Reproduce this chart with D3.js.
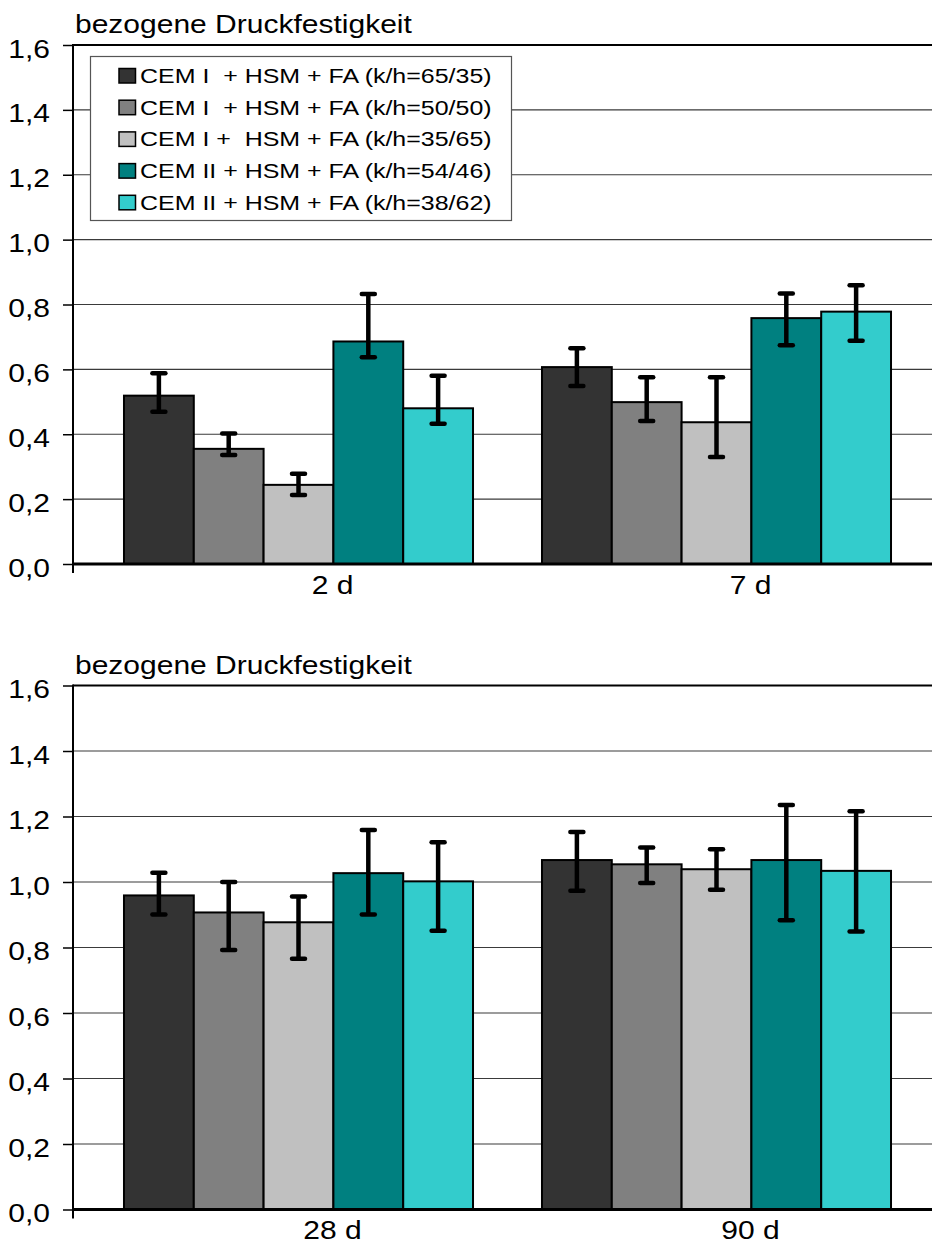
<!DOCTYPE html>
<html><head><meta charset="utf-8">
<script src="https://cdn.jsdelivr.net/npm/d3@7"></script>
<style>
html,body{margin:0;padding:0;background:#fff;}
text{font-family:"Liberation Sans",Arial,sans-serif;fill:#000;}
</style></head>
<body>
<svg id="chart" width="932" height="1245"></svg>
<script>
// ---- data ----
const seriesNames = [
  "CEM I  + HSM + FA (k/h=65/35)",
  "CEM I  + HSM + FA (k/h=50/50)",
  "CEM I +  HSM + FA (k/h=35/65)",
  "CEM II + HSM + FA (k/h=54/46)",
  "CEM II + HSM + FA (k/h=38/62)"
];
const seriesColors = ["#333333", "#808080", "#C0C0C0", "#008080", "#33CCCC"];
const yTickValues = [0, 0.2, 0.4, 0.6, 0.8, 1.0, 1.2, 1.4, 1.6];
const yTickLabels = ["0,0", "0,2", "0,4", "0,6", "0,8", "1,0", "1,2", "1,4", "1,6"];
const yTitle = "bezogene Druckfestigkeit";

const categoriesTop = ["2 d", "7 d"];
const valuesTop = [
  [0.519, 0.355, 0.244, 0.686, 0.480],
  [0.607, 0.499, 0.437, 0.758, 0.778]
];
const errUpperTop = [
  [0.588, 0.402, 0.278, 0.832, 0.580],
  [0.665, 0.576, 0.576, 0.834, 0.859]
];
const errLowerTop = [
  [0.469, 0.336, 0.213, 0.637, 0.432],
  [0.549, 0.441, 0.330, 0.674, 0.688]
];

const categoriesBottom = ["28 d", "90 d"];
const valuesBottom = [
  [0.959, 0.907, 0.877, 1.027, 1.002],
  [1.067, 1.054, 1.039, 1.067, 1.034]
];
const errUpperBottom = [
  [1.028, 1.000, 0.956, 1.159, 1.121],
  [1.153, 1.105, 1.100, 1.235, 1.216]
];
const errLowerBottom = [
  [0.901, 0.792, 0.766, 0.901, 0.851],
  [0.973, 0.997, 0.976, 0.883, 0.849]
];

// ---- drawing ----
const svg = d3.select("#chart");
const SX = 1.2; // horizontal text stretch seen in reference
const axisX = 73, rightX = 932;

function stretchedText(g, x, y, str, size, anchor) {
  return g.append("text")
    .attr("transform", `translate(${x},${y}) scale(${SX},1)`)
    .attr("text-anchor", anchor || "start")
    .attr("font-size", size)
    .style("white-space", "pre")
    .text(str);
}

function drawPanel(cfg) {
  const g = svg.append("g");
  const y = d3.scaleLinear().domain([0, 1.6]).range([cfg.y0, cfg.y1]);
  const x = d3.scaleBand().domain(cfg.categories).range([89.5, 925.5])
    .paddingInner(0.165).paddingOuter(0.0825);
  const xs = d3.scaleBand().domain(d3.range(seriesNames.length)).range([0, x.bandwidth()]);

  // gridlines
  g.append("g").selectAll("line").data(yTickValues.filter(v => v > 0 && v < 1.6))
    .join("line")
    .attr("x1", axisX).attr("x2", rightX)
    .attr("y1", d => y(d)).attr("y2", d => y(d))
    .attr("stroke", "#3a3a3a").attr("stroke-width", 1.2);
  // top border line
  g.append("line").attr("x1", axisX).attr("x2", rightX)
    .attr("y1", y(1.6)).attr("y2", y(1.6))
    .attr("stroke", "#000").attr("stroke-width", 2);

  // y axis
  const yAxis = d3.axisLeft(y).tickValues(yTickValues)
    .tickFormat((d, i) => yTickLabels[i]).tickSize(10).tickPadding(0);
  const ax = g.append("g").attr("transform", `translate(${axisX},0)`).call(yAxis);
  ax.select(".domain").remove();
  ax.selectAll(".tick line").attr("stroke", "#000").attr("stroke-width", 1.5);
  ax.selectAll(".tick text")
    .attr("x", null).attr("dy", null)
    .attr("font-size", 25).attr("font-family", null)
    .attr("text-anchor", "end")
    .attr("transform", `translate(-23,12) scale(${SX},1)`);
  g.append("line").attr("x1", axisX).attr("x2", axisX)
    .attr("y1", y(1.6) - 1).attr("y2", y(0) + 9)
    .attr("stroke", "#000").attr("stroke-width", 2);

  // title
  stretchedText(g, 75, y(1.6) - 12, yTitle, 25, "start");

  // bars
  const groups = g.append("g").selectAll("g").data(cfg.categories).join("g")
    .attr("transform", d => `translate(${x(d)},0)`);
  groups.each(function(cat, ci) {
    const gg = d3.select(this);
    const vals = cfg.values[ci];
    gg.selectAll("rect").data(vals).join("rect")
      .attr("x", (d, i) => xs(i))
      .attr("width", xs.bandwidth())
      .attr("y", d => y(d))
      .attr("height", d => y(0) - y(d))
      .attr("fill", (d, i) => seriesColors[i])
      .attr("stroke", "#000").attr("stroke-width", 2);
    // error bars
    const eb = gg.selectAll("g.err").data(vals).join("g").attr("class", "err");
    eb.append("line")
      .attr("x1", (d, i) => xs(i) + xs.bandwidth() / 2)
      .attr("x2", (d, i) => xs(i) + xs.bandwidth() / 2)
      .attr("y1", (d, i) => y(cfg.upper[ci][i]))
      .attr("y2", (d, i) => y(cfg.lower[ci][i]))
      .attr("stroke", "#000").attr("stroke-width", 4.5);
    ["upper", "lower"].forEach(k => {
      eb.append("line")
        .attr("x1", (d, i) => xs(i) + xs.bandwidth() / 2 - 6.5)
        .attr("x2", (d, i) => xs(i) + xs.bandwidth() / 2 + 6.5)
        .attr("y1", (d, i) => y(cfg[k][ci][i]))
        .attr("y2", (d, i) => y(cfg[k][ci][i]))
        .attr("stroke", "#000").attr("stroke-width", 4.5)
        .attr("stroke-linecap", "round");
    });
  });

  // x axis baseline
  g.append("line").attr("x1", axisX - 1).attr("x2", rightX)
    .attr("y1", y(0)).attr("y2", y(0))
    .attr("stroke", "#000").attr("stroke-width", 3.2);
  // category labels
  cfg.categories.forEach(c => {
    stretchedText(g, x(c) + x.bandwidth() / 2 + 34, y(0) + 29.5, c, 25, "middle");
  });

  // legend
  if (cfg.legend) {
    const lg = g.append("g");
    lg.append("rect").attr("x", 90.5).attr("y", 56.5).attr("width", 421).attr("height", 164)
      .attr("fill", "#fff").attr("stroke", "#555").attr("stroke-width", 1.2);
    seriesNames.forEach((s, i) => {
      const by = 83 + i * 31.7;
      lg.append("rect").attr("x", 119).attr("y", by - 14.5).attr("width", 16.5).attr("height", 14.5)
        .attr("fill", seriesColors[i]).attr("stroke", "#000").attr("stroke-width", 1.5);
      stretchedText(lg, 140, by, s, 20.8, "start");
    });
  }
}

drawPanel({y0: 564, y1: 45, categories: categoriesTop, values: valuesTop,
  upper: errUpperTop, lower: errLowerTop, legend: true});
drawPanel({y0: 1209.5, y1: 685.5, categories: categoriesBottom, values: valuesBottom,
  upper: errUpperBottom, lower: errLowerBottom, legend: false});
</script>
</body></html>
